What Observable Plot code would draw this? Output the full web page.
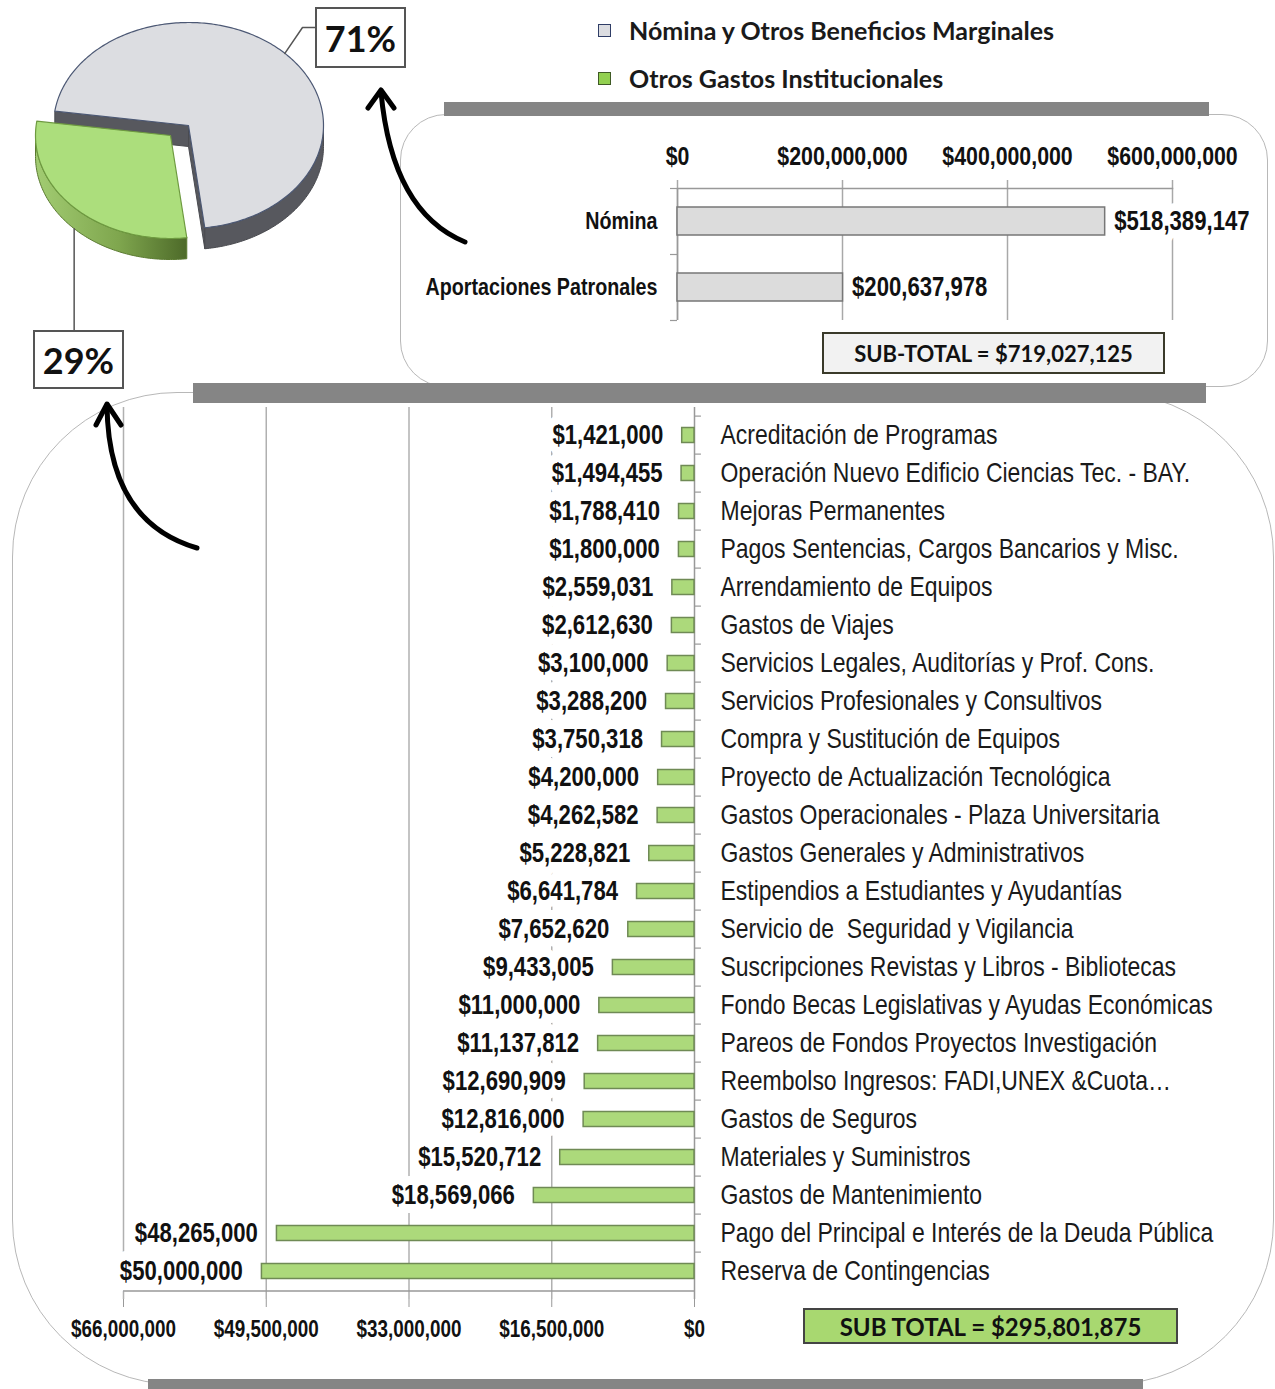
<!DOCTYPE html>
<html><head><meta charset="utf-8">
<script src="https://cdn.jsdelivr.net/npm/d3@7"></script>
<script src="https://cdn.jsdelivr.net/npm/@observablehq/plot@0.6"></script>
<style>
body{margin:0;background:#fff;}
#root{position:relative;width:1275px;height:1389px;overflow:hidden;font-family:Lato,"Open Sans",sans-serif;color:#111;}
.frame{position:absolute;border:1.5px solid #b8b8b8;box-sizing:border-box;}
.gbar{position:absolute;background:#858585;}
.box{position:absolute;box-sizing:border-box;display:flex;align-items:center;justify-content:center;font-weight:bold;white-space:nowrap;}
.leg{position:absolute;display:flex;align-items:center;font-weight:bold;font-size:25px;white-space:nowrap;color:#1a1a1a;}
.leg span.sw{display:inline-block;width:13px;height:13px;margin-right:18px;box-sizing:border-box;}
svg.overlay{position:absolute;left:0;top:0;pointer-events:none;}
</style></head><body><div id="root"></div>
<script>
const SANS = '"Liberation Sans", Arial, sans-serif';

// ---------- data ----------
const pieLabels = ["Nómina y Otros Beneficios Marginales", "Otros Gastos Institucionales"];
const pieValues = [719027125, 295801875];

const nominaCats = ["Nómina", "Aportaciones Patronales"];
const nominaValues = [518389147, 200637978];
const nominaTicks = [0, 200000000, 400000000, 600000000];

const otrosCats = [
  "Acreditación de Programas",
  "Operación Nuevo Edificio Ciencias Tec. - BAY.",
  "Mejoras Permanentes",
  "Pagos Sentencias, Cargos Bancarios y Misc.",
  "Arrendamiento de Equipos",
  "Gastos de Viajes",
  "Servicios Legales, Auditorías y Prof. Cons.",
  "Servicios Profesionales y Consultivos",
  "Compra y Sustitución de Equipos",
  "Proyecto de Actualización Tecnológica",
  "Gastos Operacionales - Plaza Universitaria",
  "Gastos Generales y Administrativos",
  "Estipendios a Estudiantes y Ayudantías",
  "Servicio de  Seguridad y Vigilancia",
  "Suscripciones Revistas y Libros - Bibliotecas",
  "Fondo Becas Legislativas y Ayudas Económicas",
  "Pareos de Fondos Proyectos Investigación",
  "Reembolso Ingresos: FADI,UNEX &Cuota…",
  "Gastos de Seguros",
  "Materiales y Suministros",
  "Gastos de Mantenimiento",
  "Pago del Principal e Interés de la Deuda Pública",
  "Reserva de Contingencias"
];
const otrosValues = [1421000, 1494455, 1788410, 1800000, 2559031, 2612630, 3100000, 3288200,
  3750318, 4200000, 4262582, 5228821, 6641784, 7652620, 9433005, 11000000, 11137812,
  12690909, 12816000, 15520712, 18569066, 48265000, 50000000];
const otrosTicks = [0, 16500000, 33000000, 49500000, 66000000];

// ---------- helpers ----------
const fmt = d => "$" + d3.format(",")(d);
const root = document.getElementById("root");
function add(html){ root.insertAdjacentHTML("beforeend", html); }
function place(node, left, top){ node.style.position="absolute"; node.style.left=left+"px"; node.style.top=top+"px"; root.appendChild(node); }
// condense text horizontally (narrow face look)
function narrow(svg, k){
  svg.querySelectorAll("text").forEach(t => {
    const L = t.getComputedTextLength();
    if (L > 0) { t.setAttribute("textLength", (L*k).toFixed(1)); t.setAttribute("lengthAdjust", "spacingAndGlyphs"); }
  });
}

// ---------- frames and bars ----------
add('<div class="frame" style="left:400px;top:114px;width:868px;height:273px;border-radius:46px;"></div>');
add('<div class="frame" style="left:12px;top:392px;width:1262px;height:993px;border-radius:165px;"></div>');
add('<div class="gbar" style="left:444px;top:102px;width:765px;height:14px;"></div>');
add('<div class="gbar" style="left:193px;top:383px;width:1013px;height:20px;"></div>');
add('<div class="gbar" style="left:148px;top:1379px;width:995px;height:12px;"></div>');

// ---------- legend ----------
add(`<div class="leg" style="left:598px;top:16px;height:28px;"><span class="sw" style="background:#dcdde1;border:1.5px solid #2f3d66"></span>${pieLabels[0]}</div>`);
add(`<div class="leg" style="left:598px;top:64px;height:28px;"><span class="sw" style="background:#92d050;border:1.5px solid #3f5a25"></span>${pieLabels[1]}</div>`);

// ---------- pie (3D look) ----------
const cx = 188, cy = 125, rx = 135, ry = 103, depth = 21, explode = [[0,0],[-18,10]];
const startA = 278 * Math.PI / 180;
const arcs = d3.pie().sort(null).startAngle(startA).endAngle(startA + 2*Math.PI)(pieValues);
const P = (a, off, dz=0) => ({x: cx + off[0] + rx*Math.sin(a), y: cy + off[1] - ry*Math.cos(a) + dz});
const C = (off, dz=0) => ({x: cx + off[0], y: cy + off[1] + dz});
function arcPts(a0, a1, off, dz=0){ const n = Math.max(2, Math.ceil((a1-a0)/(Math.PI/180))); return d3.range(n+1).map(i => P(a0 + (a1-a0)*i/n, off, dz)); }
function frontRange(a0, a1){
  const out=[];
  for (let k=-1;k<3;k++){ const s=Math.PI/2+2*Math.PI*k, e=3*Math.PI/2+2*Math.PI*k; const lo=Math.max(a0,s), hi=Math.min(a1,e); if (hi>lo) out.push([lo,hi]); }
  return out;
}
const pieMarks = [];
const sideCol = ["#57585e", "url(#greenSide)"];
const topCol = ["#dcdde1", "#acde7c"];
const topStroke = ["#4c5874", "#6e9a40"];
arcs.forEach((a, i) => {
  const off = explode[i];
  if (i === 0) {
    for (const ang of [a.startAngle, a.endAngle]) {
      const quad = [C(off), P(ang, off), P(ang, off, depth), C(off, depth), C(off)];
      pieMarks.push(Plot.line(quad, {x:"x", y:"y", fill:"#57585e", stroke:"#4a4b50", strokeWidth:1}));
    }
  }
  for (const [s, e] of frontRange(a.startAngle, a.endAngle)) {
    const rim = arcPts(s, e, off).concat(arcPts(s, e, off, depth).reverse());
    rim.push(rim[0]);
    pieMarks.push(Plot.line(rim, {x:"x", y:"y", fill: sideCol[i], stroke: i ? "#5a7a30" : "#4a4b50", strokeWidth:1}));
  }
  const top = [C(off)].concat(arcPts(a.startAngle, a.endAngle, off)).concat([C(off)]);
  pieMarks.push(Plot.line(top, {x:"x", y:"y", fill: topCol[i], stroke: topStroke[i], strokeWidth:1.2}));
});
const mid0 = (arcs[0].startAngle + arcs[0].endAngle)/2;
const mid1 = (arcs[1].startAngle + arcs[1].endAngle)/2;
const p0 = P(mid0, explode[0]);
const p1 = P(mid1, explode[1], depth);
pieMarks.push(Plot.line([p0, {x:302, y:27}, {x:316, y:27}], {x:"x", y:"y", stroke:"#555", strokeWidth:1.5}));
pieMarks.push(Plot.line([p1, {x:p1.x, y:330}], {x:"x", y:"y", stroke:"#555", strokeWidth:1.5}));

const piePlot = Plot.plot({
  width: 420, height: 400, margin: 0,
  style: {background: "transparent", overflow: "visible"},
  x: {domain: [0, 420], range: [0, 420], axis: null},
  y: {domain: [0, 400], range: [0, 400], axis: null},
  marks: pieMarks
});
d3.select(piePlot).insert("defs", ":first-child").html(
  '<linearGradient id="greenSide" x1="0" x2="1" y1="0" y2="0">' +
  '<stop offset="0" stop-color="#a2cc72"/><stop offset="0.55" stop-color="#7fa64e"/><stop offset="1" stop-color="#4d6a29"/></linearGradient>');
place(piePlot, 0, 0);

const total = d3.sum(pieValues);
const pct = pieValues.map(v => Math.round(v/total*100) + "%");
add(`<div class="box" style="left:315px;top:7px;width:91px;height:61px;border:2px solid #555;background:#fff;font-size:36px;">${pct[0]}</div>`);
add(`<div class="box" style="left:33px;top:330px;width:91px;height:59px;border:2px solid #555;background:#fff;font-size:36px;">${pct[1]}</div>`);

// ---------- top bar chart ----------
const nominaData = nominaCats.map((c, i) => ({cat: c, value: nominaValues[i]}));
const tH = 210, tTop = 68, tBottom = 10;
const tbw = (tH - tTop - tBottom) / nominaCats.length;
const topPlot = Plot.plot({
  width: 870, height: tH, marginTop: tTop, marginBottom: tBottom, marginLeft: 277, marginRight: 98,
  style: {background: "transparent", fontFamily: SANS, color: "#111", overflow: "visible"},
  x: {domain: [0, 600000000], label: null},
  y: {domain: nominaCats, padding: 0, label: null},
  marks: [
    Plot.ruleX(nominaTicks, {stroke: "#a8a8a8", strokeWidth: 1.5, insetTop: -8}),
    Plot.frame({anchor: "top", stroke: "#999", strokeWidth: 1.5}),
    Plot.ruleX([0], {stroke: "#999", strokeWidth: 1.5}),
    Plot.ruleY(nominaCats, {y: d => d, x1: 0, x2: -8500000, dy: -tbw/2, stroke: "#999", strokeWidth: 1.2}),
    Plot.ruleY(nominaCats.slice(-1), {y: d => d, x1: 0, x2: -8500000, dy: tbw/2, stroke: "#999", strokeWidth: 1.2}),
    Plot.barX(nominaData, {x: "value", y: "cat", fill: "#dcdcdc", stroke: "#777", strokeWidth: 1.5, insetTop: 19, insetBottom: 19}),
    Plot.text(nominaData, {x: "value", y: "cat", text: d => fmt(d.value), dx: 9, textAnchor: "start", fontSize: 27, fontWeight: "bold", stroke: "white", strokeWidth: 16, paintOrder: "stroke", fill: "#111"}),
    Plot.axisX({anchor: "top", ticks: nominaTicks, tickFormat: fmt, tickSize: 0, tickPadding: 24, fontSize: 26, fontWeight: "bold", label: null}),
    Plot.axisY({anchor: "left", tickSize: 0, tickPadding: 20, fontSize: 24, fontWeight: "bold", label: null})
  ]
});
place(topPlot, 400, 120);
narrow(topPlot, 0.82);
add(`<div class="box" style="left:822px;top:332px;width:343px;height:42px;border:2px solid #3a3a2a;background:#f2f2f2;font-size:22px;">SUB-TOTAL = ${fmt(pieValues[0])}</div>`);

// ---------- bottom bar chart ----------
const otrosData = otrosCats.map((c, i) => ({cat: c, value: otrosValues[i]}));
const bH = 954, bTop = 12, bBottom = 50;
const bw = (bH - bTop - bBottom) / otrosCats.length;
const botPlot = Plot.plot({
  width: 1275, height: bH, marginTop: bTop, marginBottom: bBottom, marginLeft: 123, marginRight: 581,
  style: {background: "transparent", fontFamily: SANS, color: "#111", overflow: "visible"},
  x: {domain: [0, 66000000], reverse: true, label: null},
  y: {domain: otrosCats, padding: 0, label: null},
  marks: [
    Plot.ruleX(otrosTicks.filter(d => d > 0), {stroke: "#b0b0b0", strokeWidth: 1.5}),
    Plot.text(otrosData, {x: "value", y: "cat", text: d => fmt(d.value), dx: -19, textAnchor: "end", fontSize: 27, fontWeight: "bold", stroke: "white", strokeWidth: 18, paintOrder: "stroke", fill: "#111"}),
    Plot.ruleX([0], {stroke: "#999", strokeWidth: 1.5}),
    Plot.ruleY(otrosCats, {y: d => d, x1: 0, x2: -800000, dy: -bw/2, stroke: "#999", strokeWidth: 1.2}),
    Plot.ruleY(otrosCats.slice(-1), {y: d => d, x1: 66000000, x2: 0, dy: bw/2, stroke: "#999", strokeWidth: 1.5}),
    Plot.barX(otrosData, {x: "value", y: "cat", fill: "#acd97b", stroke: "#6f8a55", strokeWidth: 1.5, insetTop: 11.5, insetBottom: 11.5}),
    Plot.axisY({anchor: "right", tickSize: 0, tickPadding: 26, fontSize: 28, label: null, fill: "#1a1a1a"}),
    Plot.axisX({anchor: "bottom", ticks: otrosTicks, tickFormat: fmt, tickSize: 8, tickPadding: 13, fontSize: 23, fontWeight: "bold", stroke: "#999", label: null})
  ]
});
place(botPlot, 0, 395);
narrow(botPlot, 0.82);
add(`<div class="box" style="left:803px;top:1308px;width:375px;height:36px;border:2px solid #444;background:#a8d870;font-size:24px;">SUB TOTAL = ${fmt(pieValues[1])}</div>`);

// ---------- decorative arrows ----------
add(`<svg class="overlay" width="1275" height="1389">
 <g fill="none" stroke="#000" stroke-width="5" stroke-linecap="round" stroke-linejoin="round">
  <path d="M465,242 Q392,212 381,92"/><path d="M368,108 L381,90 L394,108"/>
  <path d="M197,548 Q108,522 107,405"/><path d="M96,425 L107,404 L121,425"/>
 </g></svg>`);
</script></body></html>
